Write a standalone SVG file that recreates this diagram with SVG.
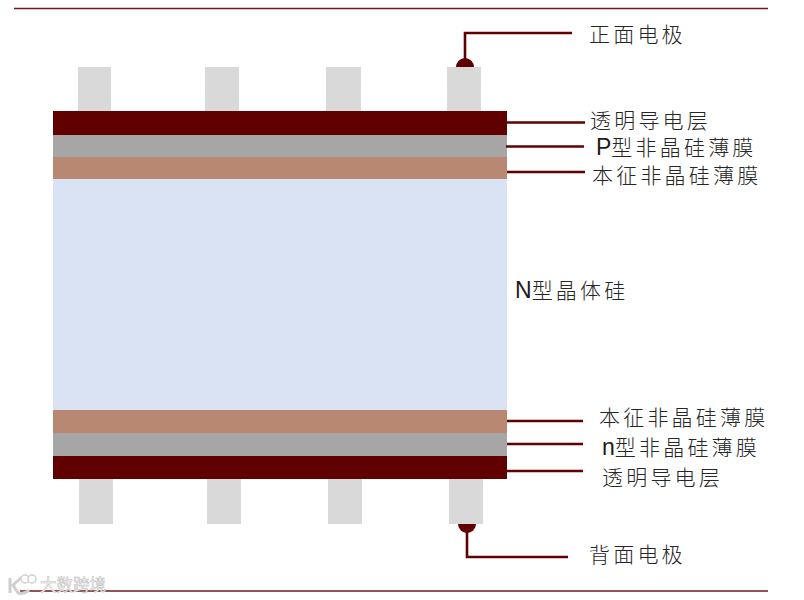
<svg xmlns="http://www.w3.org/2000/svg" width="804" height="600" viewBox="0 0 804 600">
<style>
.rule{stroke:#6b1a1f;stroke-width:1.6;fill:none}
.lead{stroke:#600000;stroke-width:2.6;fill:none}
.el{fill:#d9d9d9}
.dark{fill:#600000}
.gray{fill:#a6a6a6}
.brown{fill:#b88873}
.blue{fill:#dae3f3}
.t{font-family:"Noto Sans CJK SC","Noto Sans CJK JP",sans-serif;font-size:21px;font-weight:300;letter-spacing:3.200px;fill:#262626}
.lat{font-family:"Liberation Sans",Arial,sans-serif;font-size:23px;letter-spacing:0;fill:#1a1a1a}
.wm{font-family:"Noto Sans CJK SC",sans-serif;font-size:16.500px;font-weight:400;fill:#f6f6f6;stroke:#bdbdbd;stroke-width:.5}
</style>
<rect width="804" height="600" fill="#fff"/>
<g id="rules">
<line class="rule" x1="14" y1="8.5" x2="768" y2="8.5"/>
<line class="rule" x1="20" y1="591" x2="768" y2="591"/>
</g>
<g id="front-electrodes">
<rect class="el" x="78" y="67" width="33" height="44"/>
<rect class="el" x="205" y="67" width="34" height="44"/>
<rect class="el" x="326" y="67" width="35" height="44"/>
<rect class="el" x="447" y="67" width="34" height="44"/>
</g>
<g id="back-electrodes">
<rect class="el" x="79" y="479" width="34" height="45"/>
<rect class="el" x="207" y="479" width="34" height="45"/>
<rect class="el" x="328" y="479" width="34" height="45"/>
<rect class="el" x="449" y="479" width="34" height="45"/>
</g>
<g id="layers">
<rect id="tco-top" class="dark" x="53" y="111" width="454" height="24"/>
<rect id="p-si" class="gray" x="53" y="135" width="454" height="22"/>
<rect id="i-si-top" class="brown" x="53" y="157" width="454" height="22"/>
<rect id="n-c-si" class="blue" x="53" y="179" width="454" height="231"/>
<rect id="i-si-bottom" class="brown" x="53" y="410" width="454" height="23"/>
<rect id="n-si" class="gray" x="53" y="433" width="454" height="23"/>
<rect id="tco-bottom" class="dark" x="53" y="456" width="454" height="23"/>
</g>
<g id="connectors">
<path class="lead" d="M465 60V33H572"/>
<path class="dark" d="M456 67a9 9 0 0 1 18 0z"/>
<path class="lead" d="M507 122.500H585"/>
<path class="lead" d="M506 146.500H584"/>
<path class="lead" d="M507 172H585"/>
<path class="lead" d="M507 421H583"/>
<path class="lead" d="M507 444H583"/>
<path class="lead" d="M507 471H583"/>
<path class="lead" d="M467 530V557H568"/>
<path class="dark" d="M458 524h18a9 9 0 0 1-18 0z"/>
</g>
<g id="labels">
<text class="t" x="589" y="42">正面电极</text>
<text class="t" x="590" y="128">透明导电层</text>
<text class="t" x="596" y="155"><tspan class="lat">P</tspan><tspan>型非晶硅薄膜</tspan></text>
<text class="t" x="592" y="183">本征非晶硅薄膜</text>
<text class="t" x="515" y="298"><tspan class="lat">N</tspan><tspan>型晶体硅</tspan></text>
<text class="t" x="599" y="425">本征非晶硅薄膜</text>
<text class="t" x="602" y="455"><tspan class="lat">n</tspan><tspan>型非晶硅薄膜</tspan></text>
<text class="t" x="602" y="485">透明导电层</text>
<text class="t" x="589" y="562">背面电极</text>
</g>
<g id="watermark">
<path d="M10 578v15M22 577l-9 8 5 8c4 1 8 0 11-3" fill="none" stroke="#cfcfcf" stroke-width="3"/>
<circle cx="25" cy="579" r="4" fill="#fff" stroke="#cfcfcf" stroke-width="1.500"/>
<circle cx="32" cy="579" r="4" fill="#fff" stroke="#cfcfcf" stroke-width="1.500"/>
<text class="wm" x="40" y="591">大数跨境</text>
</g>
</svg>
